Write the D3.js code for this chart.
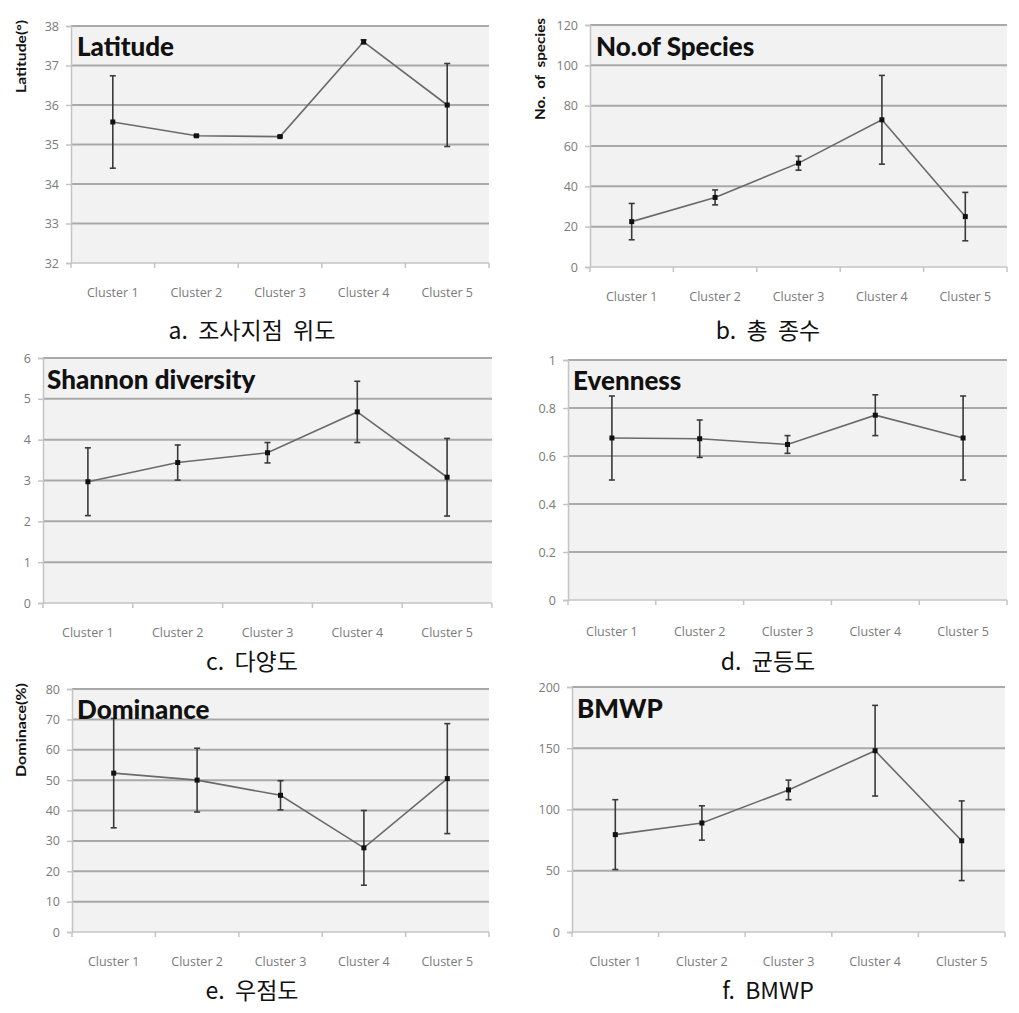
<!DOCTYPE html>
<html><head><meta charset="utf-8">
<script src="https://cdn.jsdelivr.net/npm/d3@7"></script>
<style>
body{margin:0;background:#fff;}
svg{display:block;}
</style></head>
<body>
<svg id="chart" width="1019" height="1013"></svg>
<script>
// ---- data ----
const categories = ["Cluster 1","Cluster 2","Cluster 3","Cluster 4","Cluster 5"];

const latitudeMean = [35.57, 35.22, 35.20, 37.60, 36.00];
const latitudeErr  = [1.17, 0.02, 0.02, 0.05, 1.05];
const latitudeTicks = [32,33,34,35,36,37,38];

const speciesMean = [22.5, 34.5, 51.5, 73, 25];
const speciesErr  = [9, 3.7, 3.5, 22, 12];
const speciesTicks = [0,20,40,60,80,100,120];

const shannonMean = [2.97, 3.44, 3.68, 4.68, 3.08];
const shannonErr  = [0.83, 0.43, 0.25, 0.75, 0.95];
const shannonTicks = [0,1,2,3,4,5,6];

const evennessMean = [0.675, 0.672, 0.648, 0.770, 0.675];
const evennessErr  = [0.175, 0.078, 0.037, 0.085, 0.175];
const evennessTicks = [0,0.2,0.4,0.6,0.8,1];

const dominanceMean = [52.3, 50.0, 45.0, 27.7, 50.5];
const dominanceErr  = [18.0, 10.5, 4.8, 12.3, 18.1];
const dominanceTicks = [0,10,20,30,40,50,60,70,80];

const bmwpMean = [79.5, 89, 116, 148, 74.5];
const bmwpErr  = [28.5, 14, 8, 37, 32.5];
const bmwpTicks = [0,50,100,150,200];

const titles = ["Latitude","No.of Species","Shannon diversity","Evenness","Dominance","BMWP"];
const captions = ["a.  조사지점  위도","b.  총  종수","c.  다양도","d.  균등도","e.  우점도","f.  BMWP"];
const yLabels = ["Latitude(°)","No.  of  species","","","Dominace(%)",""];

// ---- layout (positions only) ----
const panels = [
  {mean:latitudeMean, err:latitudeErr, ticks:latitudeTicks, L:71, R:489, T:26, B:263, lab:297, capX:252, capY:339, tx:77, ty:56, ylx:22, yly:20, yll:73},
  {mean:speciesMean, err:speciesErr, ticks:speciesTicks, L:590, R:1007, T:25, B:267, lab:301, capX:768, capY:339, tx:596, ty:56, ylx:541, yly:18, yll:102},
  {mean:shannonMean, err:shannonErr, ticks:shannonTicks, L:43, R:492, T:358, B:603, lab:637, capX:252, capY:670, tx:47, ty:389},
  {mean:evennessMean, err:evennessErr, ticks:evennessTicks, L:568, R:1007, T:360, B:600, lab:636, capX:768, capY:670, tx:573, ty:390},
  {mean:dominanceMean, err:dominanceErr, ticks:dominanceTicks, L:72, R:489, T:689, B:932, lab:966, capX:252, capY:999, tx:77, ty:719, ylx:22, yly:683, yll:94},
  {mean:bmwpMean, err:bmwpErr, ticks:bmwpTicks, L:572, R:1005, T:687, B:932, lab:966, capX:768, capY:999, tx:577, ty:718}
];

const svg = d3.select("#chart");

panels.forEach((p, i) => {
  const g = svg.append("g");
  const x = d3.scaleBand().domain(categories).range([p.L, p.R]).padding(0);
  const y = d3.scaleLinear().domain(d3.extent(p.ticks)).range([p.B, p.T]);
  const cx = d => x(d) + x.bandwidth() / 2;

  g.append("rect").attr("x", p.L).attr("y", p.T).attr("width", p.R - p.L).attr("height", p.B - p.T)
    .attr("fill", "#f2f2f2");

  g.selectAll("line.grid").data(p.ticks.filter(t => t !== p.ticks[0])).join("line")
    .attr("x1", p.L).attr("x2", p.R).attr("y1", d => y(d)).attr("y2", d => y(d))
    .attr("stroke", "#a9a9a9").attr("stroke-width", 2);

  const yAxis = d3.axisLeft(y).tickValues(p.ticks).tickSize(5).tickPadding(7)
    .tickFormat(d => String(d));
  const ya = g.append("g").attr("transform", `translate(${p.L},0)`).call(yAxis);
  ya.select(".domain").attr("stroke", "#c4c4c4").attr("stroke-width", 1.5);
  ya.selectAll(".tick line").attr("stroke", "#c4c4c4").attr("stroke-width", 1.5);
  ya.selectAll(".tick text").attr("fill", "#7a7a7a").style("font-family", "Open Sans, sans-serif").style("font-size", "12.5px");

  const xa = g.append("g").attr("transform", `translate(0,${p.B})`);
  xa.append("line").attr("x1", p.L).attr("x2", p.R).attr("y1", 0).attr("y2", 0)
    .attr("stroke", "#c4c4c4").attr("stroke-width", 1.5);
  const bounds = categories.map(c => x(c)).concat([p.R]);
  xa.selectAll("line.tk").data(bounds).join("line").attr("class", "tk")
    .attr("x1", d => d).attr("x2", d => d).attr("y1", 0).attr("y2", 5)
    .attr("stroke", "#c4c4c4").attr("stroke-width", 1.5);
  g.selectAll("text.cat").data(categories).join("text").attr("class", "cat")
    .attr("x", d => cx(d)).attr("y", p.lab).attr("text-anchor", "middle")
    .attr("fill", "#7a7a7a").style("font-family", "Open Sans, sans-serif").style("font-size", "12.5px")
    .text(d => d);

  const line = d3.line().x((d, j) => cx(categories[j])).y(d => y(d));
  g.append("path").datum(p.mean).attr("d", line).attr("fill", "none")
    .attr("stroke", "#6a6a6a").attr("stroke-width", 1.6);

  const eb = g.selectAll("g.eb").data(p.mean).join("g").attr("class", "eb");
  eb.append("line")
    .attr("x1", (d, j) => cx(categories[j])).attr("x2", (d, j) => cx(categories[j]))
    .attr("y1", (d, j) => y(d + p.err[j])).attr("y2", (d, j) => y(d - p.err[j]))
    .attr("stroke", "#3a3a3a").attr("stroke-width", 1.6);
  [1, -1].forEach(s => {
    eb.append("line")
      .attr("x1", (d, j) => cx(categories[j]) - 3).attr("x2", (d, j) => cx(categories[j]) + 3)
      .attr("y1", (d, j) => y(d + s * p.err[j])).attr("y2", (d, j) => y(d + s * p.err[j]))
      .attr("stroke", "#3a3a3a").attr("stroke-width", 1.6);
  });
  eb.append("rect")
    .attr("x", (d, j) => cx(categories[j]) - 2.5).attr("y", d => y(d) - 2.5)
    .attr("width", 5).attr("height", 5).attr("fill", "#111");

  g.append("text").attr("x", p.tx).attr("y", p.ty).text(titles[i])
    .attr("fill", "#111").style("font-family", "Lato, sans-serif").style("font-weight", "900").style("font-size", "26px");

  if (yLabels[i]) {
    g.append("text").attr("transform", `translate(${p.ylx},${p.yly}) rotate(-90)`)
      .attr("text-anchor", "end").attr("dy", "0.35em")
      .attr("textLength", p.yll).attr("lengthAdjust", "spacingAndGlyphs")
      .style("white-space", "pre").text(yLabels[i])
      .attr("fill", "#111").style("font-family", "Lato, sans-serif").style("font-weight", "bold").style("font-size", "12.5px");
  }

  g.append("text").attr("x", p.capX).attr("y", p.capY).attr("text-anchor", "middle")
    .style("white-space", "pre").text(captions[i])
    .attr("fill", "#111").style("font-family", "'Noto Sans CJK KR', 'Noto Sans', sans-serif").style("font-size", "23px");
});
</script>
</body></html>
